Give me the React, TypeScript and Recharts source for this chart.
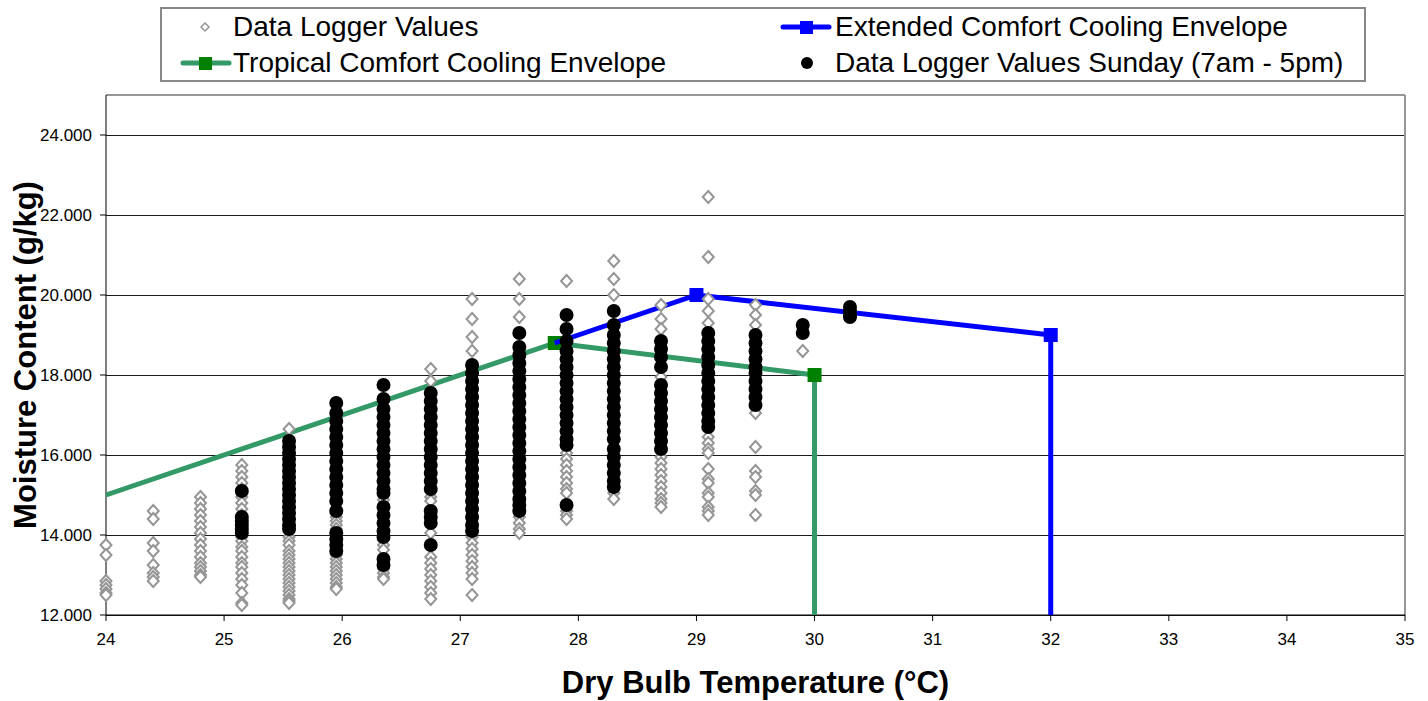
import { ScatterChart, Scatter, XAxis, YAxis, CartesianGrid, ReferenceLine, Legend, Label } from "recharts";

const FONT = '"Liberation Sans", Arial, Helvetica, sans-serif';

// dry bulb temperature of each logger column (°C)
const temperatures = [24.0, 24.4, 24.8, 25.15, 25.55, 25.95, 26.35, 26.75, 27.1, 27.5, 27.9, 28.3, 28.7, 29.1, 29.5, 29.9, 30.3];

// all logger readings (g/kg), one list per temperature column
const loggerValues: number[][] = [
  [13.75, 13.5, 12.85, 12.75, 12.65, 12.55, 12.5],
  [14.6, 14.4, 13.8, 13.6, 13.25, 13.05, 12.95, 12.85],
  [14.95, 14.8, 14.65, 14.5, 14.35, 14.2, 14.05, 13.9, 13.75, 13.6, 13.45, 13.3, 13.2, 13.1, 13.0, 12.95],
  [15.75, 15.6, 15.45, 15.3, 15.15, 14.95, 14.8, 14.65, 14.5, 14.3, 14.1, 13.95, 13.85, 13.7, 13.6, 13.45, 13.3, 13.2, 13.05, 12.9, 12.75, 12.55, 12.3, 12.25],
  [16.65, 13.95, 13.85, 13.75, 13.6, 13.5, 13.4, 13.3, 13.2, 13.1, 13.0, 12.9, 12.8, 12.7, 12.6, 12.5, 12.4, 12.35, 12.3],
  [14.55, 14.45, 14.35, 14.25, 14.15, 13.5, 13.4, 13.3, 13.2, 13.1, 13.0, 12.9, 12.8, 12.7, 12.65],
  [14.88, 13.88, 13.75, 13.63, 13.15, 13.05, 12.95, 12.9],
  [18.15, 17.85, 14.95, 14.85, 14.05, 13.45, 13.3, 13.15, 13.0, 12.85, 12.7, 12.55, 12.4],
  [19.9, 19.4, 18.95, 18.6, 13.95, 13.8, 13.65, 13.5, 13.35, 13.2, 13.05, 12.9, 12.5],
  [20.4, 19.9, 19.45, 14.45, 14.3, 14.15, 14.05],
  [20.35, 16.05, 15.9, 15.75, 15.6, 15.45, 15.3, 15.15, 15.05, 14.6, 14.5, 14.4],
  [20.85, 20.4, 20.0, 15.05, 14.9],
  [19.75, 19.4, 19.15, 17.95, 15.95, 15.8, 15.65, 15.5, 15.35, 15.2, 15.05, 14.9, 14.8, 14.7],
  [22.45, 20.95, 19.9, 19.6, 19.3, 16.45, 16.3, 16.15, 16.05, 15.65, 15.4, 15.3, 15.05, 14.95, 14.7, 14.6, 14.5],
  [19.75, 19.5, 19.25, 17.05, 16.2, 15.6, 15.45, 15.1, 15.0, 14.5],
  [18.6],
  [],
];

// Sunday 7am - 5pm readings (g/kg)
const sundayValues: number[][] = [
  [],
  [],
  [],
  [15.1, 14.45, 14.35, 14.25, 14.15, 14.05],
  [16.35, 16.2, 16.05, 15.9, 15.75, 15.6, 15.45, 15.3, 15.15, 15.0, 14.85, 14.7, 14.55, 14.4, 14.25, 14.15],
  [17.3, 17.05, 16.85, 16.65, 16.45, 16.25, 16.05, 15.85, 15.65, 15.45, 15.25, 15.05, 14.85, 14.6, 14.05, 13.9, 13.75, 13.6],
  [17.75, 17.4, 17.15, 16.95, 16.75, 16.55, 16.35, 16.15, 15.95, 15.75, 15.55, 15.35, 15.15, 15.05, 14.7, 14.5, 14.3, 14.1, 13.95, 13.4, 13.25],
  [17.55, 17.35, 17.15, 16.95, 16.75, 16.55, 16.35, 16.15, 15.95, 15.75, 15.55, 15.35, 15.15, 14.6, 14.45, 14.3, 13.75],
  [18.25, 18.05, 17.85, 17.65, 17.45, 17.25, 17.05, 16.85, 16.65, 16.45, 16.25, 16.05, 15.85, 15.65, 15.45, 15.25, 15.05, 14.85, 14.65, 14.45, 14.25, 14.1],
  [19.05, 18.7, 18.5, 18.3, 18.1, 17.9, 17.7, 17.5, 17.3, 17.1, 16.9, 16.7, 16.5, 16.3, 16.1, 15.9, 15.7, 15.5, 15.3, 15.1, 14.9, 14.75, 14.6],
  [19.5, 19.15, 18.85, 18.6, 18.4, 18.2, 18.0, 17.8, 17.6, 17.4, 17.2, 17.0, 16.8, 16.6, 16.4, 16.25, 14.75],
  [19.6, 19.25, 19.0, 18.8, 18.6, 18.4, 18.2, 18.0, 17.8, 17.6, 17.4, 17.2, 17.0, 16.8, 16.6, 16.4, 16.15, 15.95, 15.75, 15.55, 15.35, 15.2],
  [18.85, 18.65, 18.45, 18.2, 17.75, 17.55, 17.35, 17.15, 16.95, 16.75, 16.55, 16.35, 16.15],
  [19.05, 18.85, 18.65, 18.45, 18.25, 18.05, 17.85, 17.65, 17.45, 17.25, 17.05, 16.85, 16.7],
  [19.0, 18.8, 18.6, 18.4, 18.2, 18.05, 17.85, 17.65, 17.45, 17.25],
  [19.25, 19.05],
  [19.7, 19.6, 19.5, 19.45],
];

// comfort envelopes
const tropicalTemp = [24, 27.8, 30, 30];
const tropicalMoisture = [15, 18.8, 18, 12];
const tropicalMarked = [false, true, true, false];

const extendedTemp = [27.8, 29, 32, 32];
const extendedMoisture = [18.8, 20, 19, 12];
const extendedMarked = [false, true, true, false];

const xTicks = [24, 25, 26, 27, 28, 29, 30, 31, 32, 33, 34, 35];
const yTicks = [12, 14, 16, 18, 20, 22, 24];

const loggerPoints = temperatures.flatMap((t, i) => loggerValues[i].map((v) => ({ x: t, y: v })));
const sundayPoints = temperatures.flatMap((t, i) => sundayValues[i].map((v) => ({ x: t, y: v })));
const tropicalPoints = tropicalTemp.map((t, i) => ({ x: t, y: tropicalMoisture[i], mark: tropicalMarked[i] }));
const extendedPoints = extendedTemp.map((t, i) => ({ x: t, y: extendedMoisture[i], mark: extendedMarked[i] }));

const GREEN_LINE = "#339966";
const GREEN_MARK = "#008000";
const BLUE = "#0000ff";
const GREY = "#969696";

function Diamond(props: any) {
  const { cx, cy } = props;
  if (cx == null || cy == null) return null;
  return (
    <path
      d={`M${cx},${cy - 6}L${cx + 5.5},${cy}L${cx},${cy + 6}L${cx - 5.5},${cy}Z`}
      fill="#fff"
      stroke={GREY}
      strokeWidth={2}
    />
  );
}

function Dot(props: any) {
  const { cx, cy } = props;
  if (cx == null || cy == null) return null;
  return <circle cx={cx} cy={cy} r={7} fill="#000" />;
}

const squareShape = (color: string) => (props: any) => {
  const { cx, cy, payload } = props;
  if (cx == null || cy == null || !payload?.mark) return <g />;
  return <rect x={cx - 7} y={cy - 7} width={14} height={14} fill={color} />;
};

function LegendBox() {
  const textStyle = { fontFamily: FONT, fontSize: 28, fill: "#000" };
  return (
    <svg width={1202} height={71} style={{ display: "block" }}>
      <path d="M43,14L47,18L43,22L39,18Z" fill="#fff" stroke={GREY} strokeWidth={1.5} />
      <text x={71} y={27} style={textStyle}>Data Logger Values</text>

      <line x1={21} y1={54} x2={67} y2={54} stroke={GREEN_LINE} strokeWidth={5} strokeLinecap="round" />
      <rect x={37} y={48} width={13} height={13} fill={GREEN_MARK} />
      <text x={71} y={63} style={textStyle}>Tropical Comfort Cooling Envelope</text>

      <line x1={621} y1={18} x2={667} y2={18} stroke={BLUE} strokeWidth={5} strokeLinecap="round" />
      <rect x={638} y={12} width={13} height={13} fill={BLUE} />
      <text x={673} y={27} style={textStyle}>Extended Comfort Cooling Envelope</text>

      <circle cx={645} cy={54} r={6} fill="#000" />
      <text x={673} y={63} style={textStyle}>Data Logger Values Sunday (7am - 5pm)</text>
    </svg>
  );
}

function YTitle() {
  return (
    <text
      transform="translate(36,355) rotate(-90)"
      textAnchor="middle"
      style={{ fontFamily: FONT, fontSize: 31, fontWeight: "bold", fill: "#000" }}
    >
      Moisture Content (g/kg)
    </text>
  );
}

export default function App() {
  return (
    <div style={{ position: "absolute", left: 0, top: 0, width: 1428, height: 701, background: "#fff" }}>
      <ScatterChart width={1428} height={701} margin={{ top: 95, right: 23, bottom: 0, left: 0 }}>
        <CartesianGrid
          vertical={false}
          stroke="#1a1a1a"
          strokeWidth={1}
          shapeRendering="crispEdges"
          horizontalValues={yTicks}
        />
        <ReferenceLine y={25} stroke={GREY} strokeWidth={2} />
        <ReferenceLine x={35} stroke={GREY} strokeWidth={2} />
        <XAxis
          type="number"
          dataKey="x"
          domain={[24, 35]}
          ticks={xTicks}
          height={86}
          tickSize={6}
          tickMargin={12}
          stroke="#000"
          tick={{ fill: "#000", fontSize: 17, fontFamily: FONT }}
        >
          <Label
            value="Dry Bulb Temperature (°C)"
            position="insideBottom"
            offset={8}
            style={{ fontFamily: FONT, fontSize: 31, fontWeight: "bold", fill: "#000" }}
          />
        </XAxis>
        <YAxis
          type="number"
          dataKey="y"
          domain={[12, 25]}
          ticks={yTicks}
          width={106}
          tickSize={6}
          tickMargin={8}
          stroke="#000"
          tickFormatter={(v: number) => v.toFixed(3)}
          tick={{ fill: "#000", fontSize: 17, fontFamily: FONT }}
        >
          <Label content={<YTitle />} />
        </YAxis>
        <Legend
          layout="horizontal"
          verticalAlign="middle"
          align="center"
          content={() => <LegendBox />}
          wrapperStyle={{
            left: 160,
            top: 7,
            width: 1206,
            height: 75,
            border: "2px solid #888",
            background: "#fff",
            boxSizing: "border-box",
          }}
        />
        <Scatter
          data={tropicalPoints}
          line={{ stroke: GREEN_LINE, strokeWidth: 5 }}
          shape={squareShape(GREEN_MARK)}
          isAnimationActive={false}
        />
        <Scatter
          data={extendedPoints}
          line={{ stroke: BLUE, strokeWidth: 5 }}
          shape={squareShape(BLUE)}
          isAnimationActive={false}
        />
        <Scatter data={loggerPoints} shape={<Diamond />} isAnimationActive={false} />
        <Scatter data={sundayPoints} shape={<Dot />} isAnimationActive={false} />
      </ScatterChart>
    </div>
  );
}
